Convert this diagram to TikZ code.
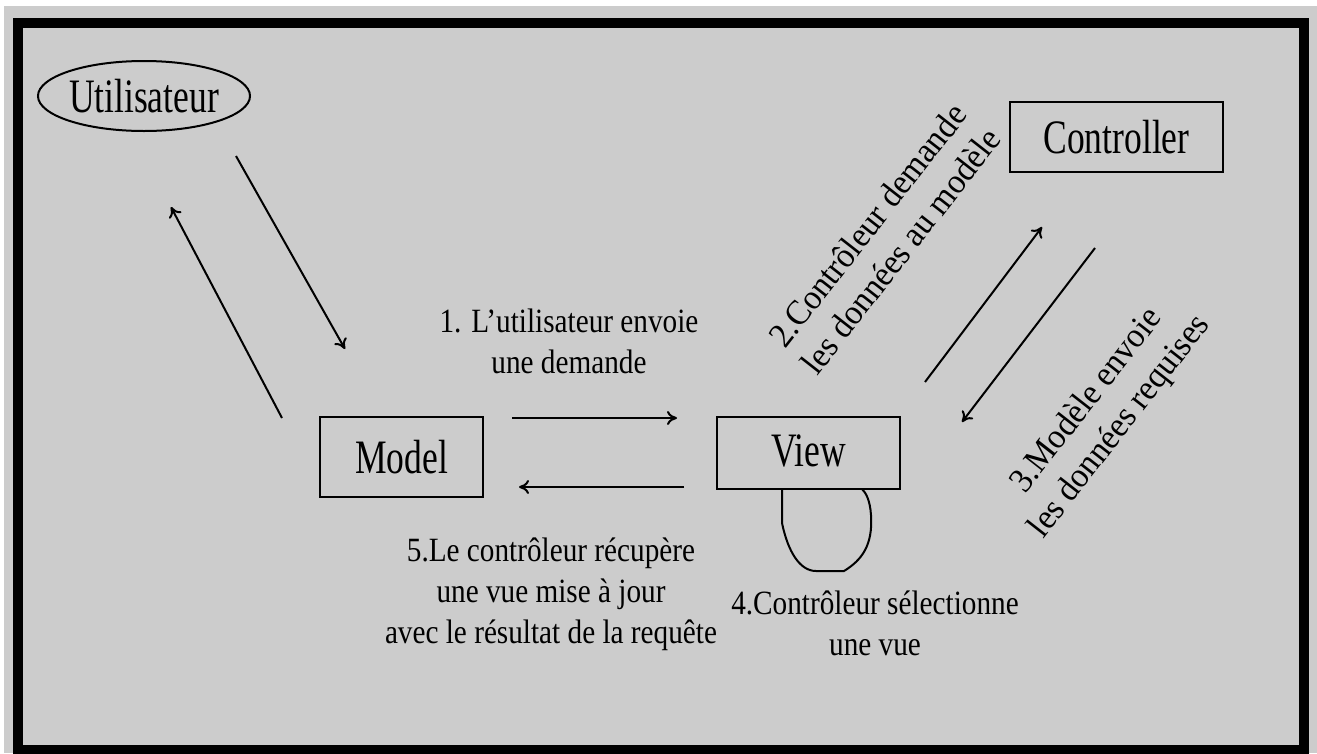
\documentclass[tikz,border=0pt]{standalone}
\usepackage{fontspec}
\setmainfont{Liberation Serif}[FakeStretch=0.86]
\newfontfamily\boxfont{Liberation Serif}[FakeStretch=0.74]
\newfontfamily\slantedfont{Liberation Serif}[FakeStretch=0.95]
\usetikzlibrary{arrows.meta,shapes.geometric}

\definecolor{panel}{HTML}{CCCCCC}

\begin{document}
\begin{tikzpicture}[x=1pt,y=-1pt,
  every node/.style={inner sep=0pt},
  mvcbox/.style={draw, line width=2pt, font=\boxfont\fontsize{48}{54}\selectfont},
  steplabel/.style={align=center, font=\fontsize{34}{41}\selectfont},
  tiltlabel/.style={align=center, rotate=52, font=\slantedfont\fontsize{35}{42}\selectfont},
  flowarrow/.style={line width=2pt, -{To[length=10pt,width=14pt]}},
]
\useasboundingbox (0,0) rectangle (1317,753);

% background and heavy frame
\fill[white] (0,0) rectangle (1317,753);
\fill[panel] (4,6) rectangle (1317,753);
\draw[line width=10pt] (17.5,23) rectangle (1303.5,750);

% components
\node[mvcbox, ellipse, minimum width=208pt, minimum height=70pt] (user) at (144,96) {Utilisateur};
\node[mvcbox, minimum width=213pt, minimum height=70pt] (ctrl) at (1116.5,137) {Controller};
\node[mvcbox, minimum width=163pt, minimum height=80pt] (model) at (401.5,457) {Model};
\node[mvcbox, minimum width=183pt, minimum height=72pt] (view) at (808.5,453) {\raisebox{4pt}{View}\hspace{22pt}};

% free ends of the connectors
\coordinate (uOut) at (236,156);
\coordinate (mIn)  at (345,349);
\coordinate (mOut) at (282,418);
\coordinate (uIn)  at (171,207);
\coordinate (mvA)  at (512,418);
\coordinate (mvB)  at (677,418);
\coordinate (vmA)  at (684,487);
\coordinate (vmB)  at (519,487);
\coordinate (vcA)  at (925,382);
\coordinate (vcB)  at (1042,227);
\coordinate (cvA)  at (1095,248);
\coordinate (cvB)  at (962,422);
\coordinate (loopA) at (782,489);
\coordinate (loopB) at (862,489);

% connectors
\draw[flowarrow] (uOut) -- (mIn);
\draw[flowarrow] (mOut) -- (uIn);
\draw[flowarrow] (mvA) -- (mvB);
\draw[flowarrow] (vmA) -- (vmB);
\draw[flowarrow] (vcA) -- (vcB);
\draw[flowarrow] (cvA) -- (cvB);

% self loop under the view
\draw[line width=2pt] (loopA) -- (782,523)
  .. controls (788,552) and (800,571) .. (816,571) -- (844,571)
  .. controls (862,560) and (873,545) .. (871,515)
  .. controls (870,500) and (866,493) .. (loopB);

% step labels
\node[steplabel] (s1) at (569,341) {1. L’utilisateur envoie\\une demande};
\node[tiltlabel] (s2) at (884,238) {2.Contrôleur demande\\les données au modèle};
\node[tiltlabel] (s3) at (1104,414) {3.Modèle envoie\\les données requises};
\node[steplabel] (s4) at (875,623) {4.Contrôleur sélectionne\\une vue};
\node[steplabel] (s5) at (551,594) {5.Le contrôleur récupère\\une vue mise à jour\\avec le résultat de la requête};
\end{tikzpicture}
\end{document}
